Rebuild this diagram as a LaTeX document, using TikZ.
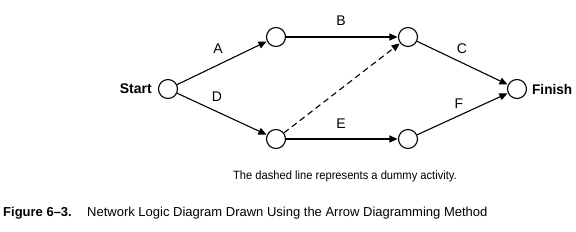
\documentclass[tikz,border=0pt]{standalone}
\usepackage{fontspec}
\setmainfont{Liberation Sans}
\usetikzlibrary{arrows.meta}
\begin{document}
\begin{tikzpicture}[x=1pt,y=-1pt,
  event/.style={circle,draw,line width=1.1pt,minimum size=19pt,inner sep=0pt,fill=white},
  act/.style={line width=1.1pt,-{Triangle[length=8pt,width=7pt]},shorten >=0.5pt},
  lbl/.style={font=\fontsize{14}{16}\selectfont,inner sep=0pt},
  endlbl/.style={font=\fontsize{14}{16}\selectfont\bfseries,inner sep=0pt}]
\useasboundingbox (0,0) rectangle (576,232);
\node[event] (s) at (168,89) {};
\node[event] (a) at (276,37) {};
\node[event] (b) at (408,37) {};
\node[event] (d) at (276,139) {};
\node[event] (e) at (408,139) {};
\node[event] (f) at (517,89) {};
\draw[act] (s) -- (a);
\draw[act] (s) -- (d);
\draw[act] (a) -- (b);
\draw[act,dashed,dash pattern=on 6pt off 4pt] (d) -- (b);
\draw[act] (b) -- (f);
\draw[act] (d) -- (e);
\draw[act] (e) -- (f);
\node[lbl] (la) at (218,49) {A};
\node[lbl] (ld) at (217,97) {D};
\node[lbl] (lb) at (341,21) {B};
\node[lbl] (lc) at (462,49) {C};
\node[lbl] (lf) at (459,104) {F};
\node[lbl] (le) at (341,124) {E};
\node[endlbl,anchor=east] (st) at (152,89) {Start};
\node[endlbl,anchor=west,xscale=0.97,transform shape] (fi) at (532,89) {Finish};
\node[font=\fontsize{12}{14}\selectfont,inner sep=0pt,xscale=0.93,transform shape] (note) at (345,176) {The dashed line represents a dummy activity.};
\node[font=\fontsize{13}{15}\selectfont\bfseries,inner sep=0pt,anchor=west] (fig) at (3,213) {Figure 6–3.};
\node[font=\fontsize{13}{15}\selectfont,inner sep=0pt,anchor=west] (cap) at (87,213) {Network Logic Diagram Drawn Using the Arrow Diagramming Method};
\end{tikzpicture}
\end{document}
